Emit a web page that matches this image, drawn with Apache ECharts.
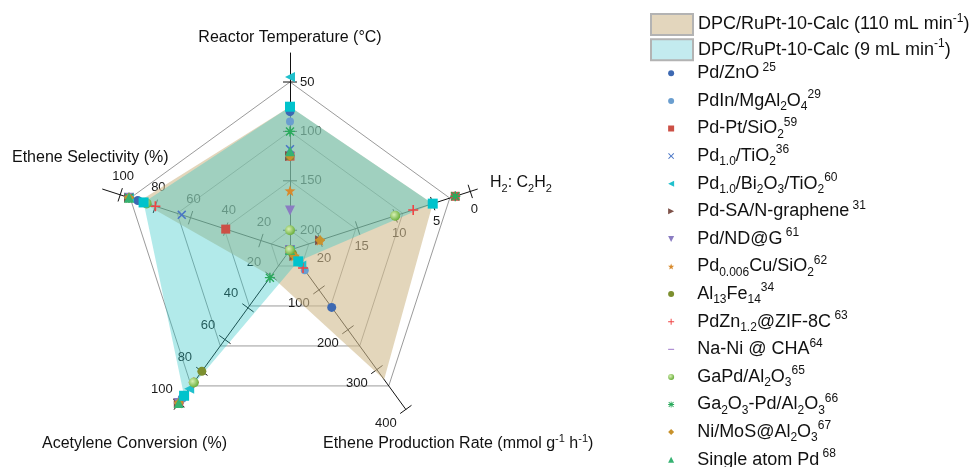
<!DOCTYPE html>
<html>
<head>
<meta charset="utf-8">
<title>Acetylene semi-hydrogenation benchmark radar</title>
<script src="https://cdn.jsdelivr.net/npm/echarts@6/dist/echarts.min.js"></script>
<style>
  html, body { margin: 0; padding: 0; background: #ffffff; }
  #chart { width: 972px; height: 467px; }
</style>
</head>
<body>
<div id="chart"></div>
<script>
const FONT = "'Liberation Sans', Arial, Helvetica, sans-serif";

// ---- Literature catalysts (one radar polygon of markers each) ----
const catalysts = [
  'Pd/ZnO', 'PdIn/MgAl2O4', 'Pd-Pt/SiO2', 'Pd1.0/TiO2', 'Pd1.0/Bi2O3/TiO2',
  'Pd-SA/N-graphene', 'Pd/ND@G', 'Pd0.006Cu/SiO2', 'Al13Fe14', 'PdZn1.2@ZIF-8C',
  'Na-Ni @ CHA', 'GaPd/Al2O3', 'Ga2O3-Pd/Al2O3', 'Ni/MoS@Al2O3', 'Single atom Pd'
];
const catalystLabels = [
  'Pd/ZnO{sup| 25}', 'PdIn/MgAl{sub|2}O{sub|4}{sup|29}', 'Pd-Pt/SiO{sub|2}{sup|59}',
  'Pd{sub|1.0}/TiO{sub|2}{sup|36}', 'Pd{sub|1.0}/Bi{sub|2}O{sub|3}/TiO{sub|2}{sup|60}',
  'Pd-SA/N-graphene{sup| 31}', 'Pd/ND@G{sup| 61}', 'Pd{sub|0.006}Cu/SiO{sub|2}{sup|62}',
  'Al{sub|13}Fe{sub|14}{sup|34}', 'PdZn{sub|1.2}@ZIF-8C{sup| 63}', 'Na-Ni @ CHA{sup|64}',
  'GaPd/Al{sub|2}O{sub|3}{sup|65}', 'Ga{sub|2}O{sub|3}-Pd/Al{sub|2}O{sub|3}{sup|66}',
  'Ni/MoS@Al{sub|2}O{sub|3}{sup|67}', 'Single atom Pd{sup| 68}'
];
// null = not reported
const temperature    = [80, 90, 125, 118, 45, 125, 180, 160, 125, 125, 125, 200, 100, 125, 120];
const h2Ratio        = [null, null, 2, null, null, 20, null, 20, 10, 7.6, null, 10, 2, 20, null];
const productionRate = [144, 51, null, null, 39, 15, null, 15, 9, 45, null, null, null, 15, null];
const conversion     = [97, 97, 100, 100, 91, 100, 100, 100, 80, 87, 100, 87, 21, 100, 100];
const selectivity    = [90, 95, 40, 65, 95, 95, 95, 95, 85, 80, 95, 85, 95, 95, 95];

// ---- This work ----
const dpcNames  = ['DPC/RuPt-10-Calc (110 mL min-1)', 'DPC/RuPt-10-Calc (9 mL min-1)'];
const dpcLabels = ['DPC/RuPt-10-Calc (110 mL min{sup|-1})', 'DPC/RuPt-10-Calc (9 mL min{sup|-1})'];
const dpcTemperature = [75, 75];
const dpcH2Ratio     = [5, 5];
const dpcProduction  = [325, 28.5];
const dpcConversion  = [20, 95.4];
const dpcSelectivity = [89, 86.7];

// ---- Axis ticks ----
const temperatureTicks = [50, 100, 150, 200];
const h2Ticks          = [0, 5, 10, 15, 20];
const productionTicks  = [100, 200, 300, 400];
const conversionTicks  = [20, 40, 60, 80, 100];
const selectivityTicks = [20, 40, 60, 80, 100];

// Radar indicator order (counter-clockwise from the top):
// 0 temperature, 1 selectivity, 2 conversion, 3 production, 4 H2:C2H2.
// Temperature and H2 ratio grow towards the centre, so they are fed negated.
const neg = v => (v == null ? '-' : -v);
const pos = v => (v == null ? '-' : v);
function radarVector(t, s, c, p, h) {
  return [neg(t), pos(s), pos(c), pos(p), neg(h)];
}

const CENTER = [290, 250];
const RADIUS = 168;

// Marker glyphs
const X_PATH = 'path://M0,1.2L1.2,0L5,3.8L8.8,0L10,1.2L6.2,5L10,8.8L8.8,10L5,6.2L1.2,10L0,8.8L3.8,5Z';
const PLUS_PATH = 'path://M4.2,0H5.8V4.2H10V5.8H5.8V10H4.2V5.8H0V4.2H4.2Z';
const AST_PATH = 'path://M4.3,0H5.7V4.3H10V5.7H5.7V10H4.3V5.7H0V4.3H4.3Z M0.5,1.5L1.5,0.5L5,4L8.5,0.5L9.5,1.5L6,5L9.5,8.5L8.5,9.5L5,6L1.5,9.5L0.5,8.5L4,5Z';
const STAR_PATH = 'path://M5,0L6.2,3.4L9.8,3.5L6.9,5.7L7.9,9.2L5,7.2L2.1,9.2L3.1,5.7L0.2,3.5L3.8,3.4Z';
const LEFT_TRI = 'path://M0,5L10,0L10,10Z';
const RIGHT_TRI = 'path://M10,5L0,0L0,10Z';
const DOWN_TRI = 'path://M0,0L10,0L5,10Z';
const UP_TRI = 'path://M5,0L10,10L0,10Z';
const SQUARE_PATH = 'path://M0,0H10V10H0Z';
const DIAMOND_PATH = 'path://M5,0L10,5L5,10L0,5Z';
const DASH_PATH = 'path://M0,0H10V2H0Z';
// same dash inside a square box, so the legend keeps it short and thin
const DASH_BOX_PATH = 'path://M5,0L5,0M0,4.2H10V5.8H0ZM5,10L5,10';

const markerStyles = [
  { symbol: 'circle', size: 9, color: '#3d69b2' },
  { symbol: 'circle', size: 8, color: '#6a9ecf' },
  { symbol: SQUARE_PATH, size: 9, color: '#cc5046' },
  { symbol: X_PATH, size: 9, color: '#4a76c6' },
  { symbol: LEFT_TRI, size: 10, color: '#20c0cc' },
  { symbol: RIGHT_TRI, size: 10, color: '#7e5249' },
  { symbol: DOWN_TRI, size: 10, color: '#8a7cc2' },
  { symbol: STAR_PATH, size: 11, color: '#d88a2c' },
  { symbol: 'circle', size: 9, color: '#7c8f2f' },
  { symbol: PLUS_PATH, size: 10, color: '#f04444' },
  { symbol: DASH_PATH, size: [10, 2], color: '#9a72c8', legendIcon: DASH_BOX_PATH },
  { symbol: 'circle', size: 10, color: {
      type: 'radial', x: 0.38, y: 0.38, r: 0.7,
      colorStops: [{ offset: 0, color: '#d8f0b4' }, { offset: 1, color: '#5ea82e' }] } },
  { symbol: AST_PATH, size: 10, color: '#2aaa5c' },
  { symbol: DIAMOND_PATH, size: 10, color: '#c8922c' },
  { symbol: UP_TRI, size: 10, color: '#36b272' }
];

// Grid rings at 200, 150, 100 and 50 °C (every 10 °C is a split, only these are stroked)
const ringColors = [];
for (let i = 0; i <= 17; i++) ringColors.push([2, 7, 12, 17].indexOf(i) >= 0 ? '#9b9b9b' : 'rgba(0,0,0,0)');

const hidden = {
  axisName: { show: false }, axisLine: { show: false }, axisTick: { show: false },
  axisLabel: { show: false }, splitLine: { show: false }, splitArea: { show: false }
};

const markerSeries = catalysts.map((name, i) => ({
  type: 'radar', radarIndex: 1, name: name, z: name === 'GaPd/Al2O3' ? 5 : 4,
  symbol: markerStyles[i].symbol, symbolSize: markerStyles[i].size,
  itemStyle: { color: markerStyles[i].color },
  lineStyle: { width: 0, opacity: 0 },
  silent: true,
  data: [{ value: radarVector(temperature[i], selectivity[i], conversion[i], productionRate[i], h2Ratio[i]) }]
}));

const areaColors = ['rgba(208,187,142,0.6)', 'rgba(47,198,198,0.37)'];
const areaSeries = dpcNames.map((name, i) => ({
  type: 'radar', radarIndex: 1, name: name, z: 2,
  symbol: 'none',
  lineStyle: { width: 0, opacity: 0 },
  areaStyle: { color: areaColors[i], opacity: 1 },
  silent: true,
  data: [{ value: radarVector(dpcTemperature[i], dpcSelectivity[i], dpcConversion[i], dpcProduction[i], dpcH2Ratio[i]) }]
}));
const dpcPointSeries = {
  type: 'radar', radarIndex: 1, name: dpcNames[1] + ' points', z: 6,
  symbol: 'rect', symbolSize: 10, itemStyle: { color: '#00c3cc' },
  lineStyle: { width: 0, opacity: 0 }, silent: true,
  data: [{ value: radarVector(dpcTemperature[1], dpcSelectivity[1], dpcConversion[1], dpcProduction[1], dpcH2Ratio[1]) }]
};

const legendLabelMap = {};
catalysts.forEach((n, i) => { legendLabelMap[n] = catalystLabels[i]; });
dpcNames.forEach((n, i) => { legendLabelMap[n] = dpcLabels[i]; });

const legendText = {
  fontSize: 18, fontFamily: FONT, color: '#111', lineHeight: 24,
  rich: {
    sup: { fontSize: 12, fontFamily: FONT, color: '#111', lineHeight: 14, verticalAlign: 'top' },
    sub: { fontSize: 12, fontFamily: FONT, color: '#111', lineHeight: 12, verticalAlign: 'bottom' }
  }
};

const option = {
  animation: false,
  backgroundColor: '#ffffff',
  textStyle: { fontFamily: FONT },
  radar: [
    Object.assign({}, hidden, {
      center: CENTER, radius: RADIUS, startAngle: 90, splitNumber: 17,
      indicator: [0, 1, 2, 3, 4].map(() => ({ name: '', min: 0, max: 170 })),
      splitLine: { show: true, lineStyle: { color: ringColors, width: 1 } }
    }),
    Object.assign({}, hidden, {
      center: CENTER, radius: RADIUS, startAngle: 90, splitNumber: 5,
      indicator: [
        { name: '', min: -220, max: -50 },
        { name: '', min: 3.46, max: 94.3 },
        { name: '', min: 3.57, max: 89.2 },
        { name: '', min: 0, max: 341 },
        { name: '', min: -24, max: -2.73 }
      ]
    }),
    Object.assign({}, hidden, {
      center: CENTER, radius: 197, startAngle: 90, splitNumber: 1,
      indicator: [0, 1, 2, 3, 4].map(() => ({ name: '', min: 0, max: 1 })),
      axisLine: { show: true, lineStyle: { color: '#111', width: 1 } }
    })
  ],
  legend: [
    {
      orient: 'vertical', left: 650, top: 12.5, height: 600, padding: 0,
      itemWidth: 42, itemHeight: 21, itemGap: 1.2, selectedMode: false,
      data: [
        { name: dpcNames[0], icon: 'rect', itemStyle: { color: '#e3d6bd', borderColor: '#b3b3b3', borderWidth: 2 } },
        { name: dpcNames[1], icon: 'rect', itemStyle: { color: '#c3ebef', borderColor: '#b3b3b3', borderWidth: 2 } }
      ],
      formatter: name => legendLabelMap[name],
      textStyle: legendText
    },
    {
      // the group box starts at the (small) icon, which sits centred in a 42 px slot
      orient: 'vertical', left: 668, top: 61.3, height: 600, padding: 0,
      itemWidth: 42, itemHeight: 6, itemGap: 3.6, selectedMode: false,
      data: catalysts.map((n, i) => ({ name: n, icon: markerStyles[i].legendIcon || markerStyles[i].symbol })),
      formatter: name => legendLabelMap[name],
      textStyle: legendText
    }
  ],
  series: areaSeries.concat(markerSeries, [dpcPointSeries])
};

const chart = echarts.init(document.getElementById('chart'), null, { renderer: 'canvas' });
chart.setOption(option);

// ---- Axis ticks, tick labels and axis titles ----
const tickSpecs = [
  { index: 0, values: temperatureTicks, toData: v => -v, dx: 10, dy: 0, align: 'left' },
  { index: 1, values: selectivityTicks, toData: v => v, dx: 3, dy: -18.5, align: 'center' },
  { index: 2, values: conversionTicks, toData: v => v, dx: -17, dy: -14, align: 'center' },
  { index: 3, values: productionTicks, toData: v => v, dx: -20, dy: 13.5, align: 'center' },
  { index: 4, values: h2Ticks, toData: v => -v, dx: 4, dy: 18, align: 'center' }
];

const axisTitles = [
  { text: 'Reactor Temperature (°C)', x: 290, y: 38, align: 'center' },
  { text: 'H{sub|2}: C{sub|2}H{sub|2}', x: 490, y: 183, align: 'left' },
  { text: 'Ethene Selectivity (%)', x: 12, y: 158, align: 'left' },
  { text: 'Acetylene Conversion (%)', x: 42, y: 444, align: 'left' },
  { text: 'Ethene Production Rate (mmol g{sup|-1} h{sup|-1})', x: 323, y: 444, align: 'left' }
];

function buildDecorations() {
  const sys = chart.getModel().getComponent('radar', 1).coordinateSystem;
  const cx = sys.cx, cy = sys.cy;
  const els = [];
  tickSpecs.forEach(spec => {
    spec.values.forEach(v => {
      const p = sys.dataToPoint(spec.toData(v), spec.index);
      const ux = p[0] - cx, uy = p[1] - cy;
      const len = Math.hypot(ux, uy) || 1;
      const px = -uy / len, py = ux / len;
      els.push({
        type: 'line', z: 1, silent: true,
        shape: { x1: p[0] - px * 7, y1: p[1] - py * 7, x2: p[0] + px * 7, y2: p[1] + py * 7 },
        style: { stroke: '#111', lineWidth: 1 }
      });
      els.push({
        type: 'text', z: 1, silent: true, x: p[0] + spec.dx, y: p[1] + spec.dy,
        style: { text: String(v), fontSize: 13, fontFamily: FONT, fill: '#1a1a1a', align: spec.align, verticalAlign: 'middle' }
      });
    });
  });
  axisTitles.forEach(t => {
    els.push({
      type: 'text', z: 1, silent: true, x: t.x, y: t.y,
      style: {
        text: t.text, fontSize: 16, fontFamily: FONT, fill: '#111', lineHeight: 22,
        align: t.align, verticalAlign: 'middle',
        rich: {
          sup: { fontSize: 11, fontFamily: FONT, fill: '#111', lineHeight: 13, verticalAlign: 'top' },
          sub: { fontSize: 11, fontFamily: FONT, fill: '#111', lineHeight: 11, verticalAlign: 'bottom' }
        }
      }
    });
  });
  return els;
}

chart.setOption({ graphic: { elements: buildDecorations() } });
</script>
</body>
</html>
